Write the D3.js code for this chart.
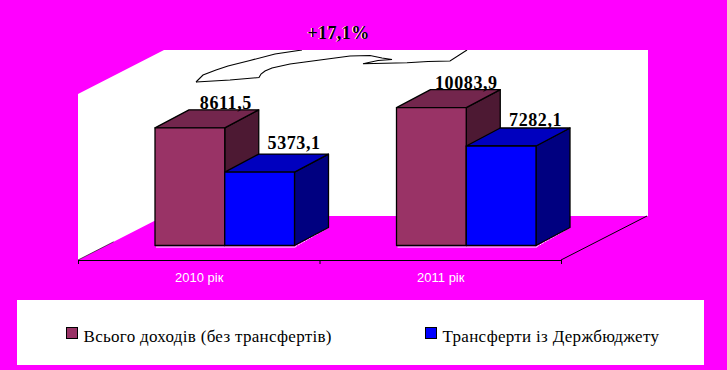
<!DOCTYPE html>
<html>
<head>
<meta charset="utf-8">
<script src="https://cdnjs.cloudflare.com/ajax/libs/d3/7.8.5/d3.min.js"></script>
<style>
  html, body { margin: 0; padding: 0; background: #ff00ff; }
  svg { display: block; }
  text { font-family: "Liberation Serif", serif; }
</style>
</head>
<body>
<svg width="727" height="370"></svg>
<script>
"use strict";

const categories = ["2010 рік", "2011 рік"];
const seriesNames = ["Всього доходів (без трансфертів)", "Трансферти із Держбюджету"];
const totalIncome = [8611.5, 10083.9];
const transfers = [5373.1, 7282.1];
const valueLabels = [["8611,5", "10083,9"], ["5373,1", "7282,1"]];
const changeLabel = "+17,1%";
const series = [totalIncome, transfers];

const frontColors = ["#993366", "#0000ff"];
const topColors = ["#73264d", "#0000bf"];
const sideColors = ["#4d1933", "#000080"];

// 라벨 위치 미세조정 (원본이 제각각임)
const labelNudgeX = [[6, 5], [4.5, 4.5]];
const labelNudgeY = [[-1, -1], [-5, -2]];

const svg = d3.select("svg");

// 3d 깊이
const wallDx = 86, wallDy = -44;
const barDx = 34, barDy = -18;

const xScale = d3.scaleBand().domain(categories).range([78, 561]);
const xSeries = d3.scaleBand().domain([0, 1]).range([77, 216.5]);
const yScale = d3.scaleLinear().domain([0, 12000]).range([245.5, 81.5]);

const line = d3.line();

// 벽
svg.append("path")
  .attr("d", line([[78, 94], [78 + wallDx, 94 + wallDy], [648, 50], [648, 216], [78 + wallDx, 216], [78, 260]]) + "Z")
  .attr("fill", "#fff");

// 바닥 옆선
svg.append("path")
  .attr("d", line([[561, 260], [561 + wallDx, 260 + wallDy]]))
  .attr("fill", "none").attr("stroke", "#000").attr("stroke-width", 1);
svg.append("path")
  .attr("d", line([[78, 260], [78 + wallDx, 260 + wallDy]]))
  .attr("fill", "none").attr("stroke", "#000").attr("stroke-width", 0.6).attr("stroke-dasharray", "40 200");

// x축
const xAxis = d3.axisBottom(xScale).tickSize(0).tickFormat("");
svg.append("g").attr("transform", "translate(0,260.5)").call(xAxis)
  .call(g => g.select(".domain").attr("stroke", "#000").attr("stroke-width", 1.2).attr("d", "M78,0H561"));
[78, xScale(categories[1]), 561].forEach(x => {
  svg.append("line").attr("x1", x + 0.5).attr("x2", x + 0.5).attr("y1", 260).attr("y2", 264).attr("stroke", "#000");
});

svg.selectAll("text.cat")
  .data(categories)
  .enter()
  .append("text")
  .attr("class", "cat")
  .attr("x", d => xScale(d) + xScale.bandwidth() / 2 + 0.5)
  .attr("y", 282)
  .attr("text-anchor", "middle")
  .attr("fill", "#fff")
  .style("font-family", "'Liberation Sans', sans-serif")
  .style("font-size", "13px")
  .text(d => d);

// 막대
categories.forEach((cat, c) => {
  // 흰 바닥선
  const baseLeft = xScale(cat) + xSeries(0);
  const baseRight = xScale(cat) + xSeries(1) + xSeries.bandwidth();
  svg.append("line")
    .attr("x1", baseLeft + 1).attr("x2", baseRight + 1)
    .attr("y1", yScale(0) + 1.5).attr("y2", yScale(0) + 1.5)
    .attr("stroke", "#fff").attr("stroke-width", 1);
  svg.append("line")
    .attr("x1", baseRight + 1).attr("x2", baseRight + barDx)
    .attr("y1", yScale(0) + 1).attr("y2", yScale(0) + barDy)
    .attr("stroke", "#fff").attr("stroke-width", 1).attr("stroke-dasharray", "2 1");

  series.forEach((vals, s) => {
    const x0 = xScale(cat) + xSeries(s);
    const x1 = x0 + xSeries.bandwidth();
    const yT = yScale(vals[c]);
    const y0 = yScale(0);
    const g = svg.append("g").attr("stroke", "#000").attr("stroke-width", 1.3).attr("stroke-linejoin", "round");
    g.append("path")
      .attr("d", line([[x1, y0], [x1 + barDx, y0 + barDy], [x1 + barDx, yT + barDy], [x1, yT]]) + "Z")
      .attr("fill", sideColors[s]);
    g.append("path")
      .attr("d", line([[x0, yT], [x0 + barDx, yT + barDy], [x1 + barDx, yT + barDy], [x1, yT]]) + "Z")
      .attr("fill", topColors[s]);
    g.append("rect")
      .attr("x", x0).attr("y", yT)
      .attr("width", xSeries.bandwidth()).attr("height", y0 - yT)
      .attr("fill", frontColors[s]);
    svg.append("text")
      .attr("x", x0 + xSeries.bandwidth() / 2 + barDx - 4 + labelNudgeX[s][c])
      .attr("y", yT + barDy + labelNudgeY[s][c])
      .attr("text-anchor", "middle")
      .attr("font-weight", "bold")
      .style("font-size", "18px")
      .style("letter-spacing", "0.6px")
      .text(valueLabels[s][c]);
  });
});

// 화살표 (윗부분은 벽 위로 안 나옴)
svg.append("clipPath").attr("id", "wallClip")
  .append("rect").attr("x", 0).attr("y", 50).attr("width", 727).attr("height", 100);
const arrowPts = [[196, 82], [203, 75], [216, 70], [228, 66], [250, 60.5], [275, 54], [302, 50]];
const arrowInner = [[196, 82], [230, 80], [259, 77.5], [261, 74], [265, 71], [272, 68], [290, 64], [320, 60], [350, 56], [370, 55.5], [382, 58], [392, 59.5], [378, 60.5], [363, 63.7], [407, 62.7], [428, 61.5], [450, 61], [467, 50]];
const arrow = svg.append("g").attr("clip-path", "url(#wallClip)")
  .attr("fill", "none").attr("stroke", "#000").attr("stroke-width", 1.1);
arrow.append("path").attr("d", line(arrowPts));
arrow.append("path").attr("d", line(arrowInner));

// 증가율 (흰 그림자 + 검정)
svg.append("text").attr("x", 337.5).attr("y", 38.5)
  .attr("text-anchor", "middle").attr("font-weight", "bold").attr("fill", "#fff")
  .style("font-size", "18px").style("letter-spacing", "0.4px").text(changeLabel);
svg.append("text").attr("x", 338.5).attr("y", 39)
  .attr("text-anchor", "middle").attr("font-weight", "bold").attr("fill", "#000")
  .style("font-size", "18px").style("letter-spacing", "0.4px").text(changeLabel);

// 범례
svg.append("rect").attr("x", 17).attr("y", 300).attr("width", 687).attr("height", 65).attr("fill", "#fff");
const legendX = [66, 425];
seriesNames.forEach((name, i) => {
  svg.append("rect")
    .attr("x", legendX[i] + 0.5).attr("y", 327.5)
    .attr("width", 11).attr("height", 11)
    .attr("fill", frontColors[i]).attr("stroke", "#000").attr("stroke-width", 1);
  svg.append("text")
    .attr("x", legendX[i] + 17.5)
    .attr("y", 342)
    .attr("fill", "#000")
    .style("font-size", "17px")
    .style("letter-spacing", "0.3px")
    .text(name);
});
</script>
</body>
</html>
